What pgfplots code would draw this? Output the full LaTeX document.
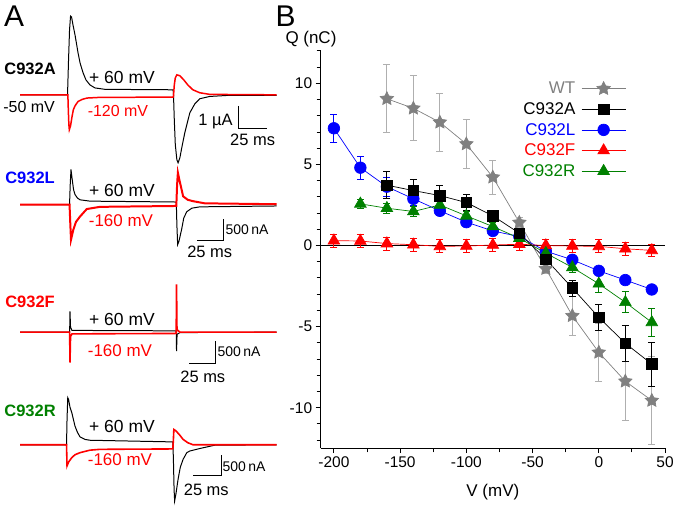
\documentclass[border=0pt]{standalone}
\usepackage{fontspec}
\setmainfont{Liberation Sans}
\usepackage{pgfplots}
\pgfplotsset{compat=1.18}

\definecolor{wtgray}{RGB}{128,128,128}
\definecolor{wterr}{RGB}{175,175,175}
\definecolor{qblue}{RGB}{0,0,255}
\definecolor{qred}{RGB}{255,0,0}
\definecolor{qgreen}{RGB}{0,128,0}
\newcommand{\fs}[1]{\fontsize{#1}{#1}\selectfont}

% filled five-point star
\pgfdeclareplotmark{fstar}{%
  \pgfpathmoveto{\pgfpointpolar{90}{\pgfplotmarksize}}%
  \pgfpathlineto{\pgfpointpolar{126}{0.5\pgfplotmarksize}}%
  \pgfpathlineto{\pgfpointpolar{162}{\pgfplotmarksize}}%
  \pgfpathlineto{\pgfpointpolar{198}{0.5\pgfplotmarksize}}%
  \pgfpathlineto{\pgfpointpolar{234}{\pgfplotmarksize}}%
  \pgfpathlineto{\pgfpointpolar{270}{0.5\pgfplotmarksize}}%
  \pgfpathlineto{\pgfpointpolar{306}{\pgfplotmarksize}}%
  \pgfpathlineto{\pgfpointpolar{342}{0.5\pgfplotmarksize}}%
  \pgfpathlineto{\pgfpointpolar{18}{\pgfplotmarksize}}%
  \pgfpathlineto{\pgfpointpolar{54}{0.5\pgfplotmarksize}}%
  \pgfpathclose\pgfusepathqfillstroke}

\pgfplotsset{
  trace/.style={hide axis, scale only axis, clip=false, width=257pt,
    xmin=0, xmax=229.5, anchor=south west},
  bar/.style={black, line width=0.8pt},
}

\begin{document}
\begin{tikzpicture}
\path (0pt,0pt) rectangle (677pt,510pt);
\node[font=\fs{30}] at (14pt,494pt) {A};
\node[font=\fs{30}] at (286pt,494pt) {B};

% ---- panel A: C932A (t in ms, I in uA)
\begin{axis}[trace, at={(20pt,341.4pt)}, ymin=-3.2, ymax=3.6, height=156.4pt]
\addplot[black, line width=1pt] coordinates {
 (0,0) (42.4,0) (43.3,1.52) (44.2,2.83) (45.1,3.43) (46.0,3.39) (47.3,3.04)
 (49.1,2.61) (51.8,1.83) (53.6,1.39) (56.3,0.96) (58.9,0.65) (62.5,0.43)
 (67.0,0.30) (75.9,0.24) (136.6,0.22) (137.1,0.13) (137.9,-1.09) (138.8,-2.17)
 (140.2,-2.83) (141.3,-2.96) (142.9,-2.74) (144.6,-2.30) (147.3,-1.65)
 (151.8,-0.78) (156.3,-0.39) (160.7,-0.17) (169.6,-0.07) (187.5,-0.02) (229.5,-0.02)};
\addplot[qred, line width=1.5pt] coordinates {
 (0,0) (42.7,0) (43.1,-0.65) (43.6,-1.30) (44.0,-1.52) (45.1,-1.35) (46.4,-0.96)
 (47.6,-0.65) (49.1,-0.48) (51.8,-0.29) (55.4,-0.20) (59.8,-0.14) (71.4,-0.11)
 (136.6,-0.10) (137.1,-0.09) (137.9,0.43) (138.8,0.74) (140.2,0.87) (142.9,0.83)
 (146.4,0.65) (150,0.43) (154.5,0.22) (160.7,0.09) (169.6,0.02) (229.5,0)};
\addplot[bar] coordinates {(195.5,-0.48) (195.5,-1.48) (220.5,-1.48)};
\node[font=\bfseries\fs{16.5}] at (axis cs:8.9,1.13) {C932A};
\node[font=\fs{16}] at (axis cs:8,-0.52) {-50 mV};
\node[font=\fs{17.5}] at (axis cs:91.1,0.74) {+ 60 mV};
\node[font=\fs{16}, text=qred] at (axis cs:87.5,-0.70) {-120 mV};
\node[font=\fs{16.5}, anchor=base east, inner sep=0pt] at (axis cs:190.2,-1.35) {1 µA};
\node[font=\fs{16.5}] at (axis cs:208,-1.96) {25 ms};
\end{axis}

% ---- panel A: C932L
\begin{axis}[trace, at={(20pt,252.2pt)}, ymin=-1.2, ymax=1.0, height=96.8pt]
\addplot[black, line width=1pt] coordinates {
 (0,0) (44.2,0) (44.8,0.45) (45.5,0.80) (46.4,0.61) (47.8,0.34) (49.1,0.23)
 (51.3,0.15) (53.6,0.11) (62.5,0.08) (139.7,0.06) (140.2,-0.45) (140.9,-0.91)
 (142,-0.84) (144.4,-0.57) (146.4,-0.30) (149.1,-0.16) (153.6,-0.08)
 (160.7,-0.05) (229.5,-0.03)};
\addplot[qred, line width=2pt] coordinates {
 (0,0) (44.2,0) (44.9,-0.45) (45.5,-0.80) (46.4,-0.70) (47.6,-0.57) (50,-0.39)
 (53.6,-0.27) (59.6,-0.10) (71.4,-0.05) (139.7,-0.03) (140.4,0.45) (141.1,0.73)
 (142.4,0.57) (145.8,0.19) (150,0.11) (154.5,0.08) (165.2,0.03) (229.5,0.01)};
\addplot[bar] coordinates {(158,-0.82) (182.1,-0.82) (182.1,-0.32)};
\node[font=\bfseries\fs{16.5}, text=qblue] at (axis cs:8.9,0.61) {C932L};
\node[font=\fs{17.5}] at (axis cs:91.1,0.32) {+ 60 mV};
\node[font=\fs{17}, text=qred] at (axis cs:90.2,-0.36) {-160 mV};
\node[font=\fs{14}, anchor=base west, inner sep=0pt] at (axis cs:183.7,-0.68) {500\,nA};
\node[font=\fs{16.5}] at (axis cs:169.6,-1.08) {25 ms};
\end{axis}

% ---- panel A: C932F
\begin{axis}[trace, at={(20pt,125.2pt)}, ymin=-1.2, ymax=1.2, height=104.2pt]
\addplot[black, line width=1pt] coordinates {
 (0,0) (44.3,0) (44.6,0.48) (45.1,0.11) (46.4,0.04) (139.6,0.03) (139.9,-0.44)
 (140.4,-0.05) (142.9,-0.01) (229.5,0)};
\addplot[qred, line width=1.6pt] coordinates {
 (0,0) (44.3,0) (44.6,-0.70) (45.1,-0.10) (46.4,-0.04) (139.6,-0.03) (139.9,1.10)
 (140.3,0.06) (142.9,0) (229.5,0)};
\node[font=\bfseries\fs{16.5}, text=qred] at (axis cs:8.9,0.71) {C932F};
\node[font=\fs{17.5}] at (axis cs:91.1,0.29) {+ 60 mV};
\node[font=\fs{17}, text=qred] at (axis cs:89.3,-0.42) {-160 mV};
\addplot[bar] coordinates {(175,-0.21) (175,-0.71) (150.9,-0.71)};
\node[font=\fs{14}, anchor=base west, inner sep=0pt] at (axis cs:176.5,-0.56) {500\,nA};
\node[font=\fs{16.5}] at (axis cs:163.4,-1.02) {25 ms};
\end{axis}

% ---- panel A: C932R
\begin{axis}[trace, at={(20pt,6.5pt)}, ymin=-1.4, ymax=1.3, height=111.8pt]
\addplot[black, line width=1pt] coordinates {
 (0,0) (41.5,0) (41.96,0.62) (42.6,1.14) (43.3,1.10) (44.6,0.91) (46.2,0.78)
 (47.6,0.62) (49.1,0.45) (51.3,0.30) (53.6,0.19) (58,0.13) (62.5,0.11)
 (136.6,0.07) (137.1,-0.35) (137.7,-1.07) (138.2,-1.36) (139.3,-1.20)
 (141.3,-0.83) (143.3,-0.54) (145.8,-0.35) (149.1,-0.19) (151.8,-0.15)
 (160.7,-0.09) (174.1,-0.01) (229.5,0)};
\addplot[qred, line width=1.6pt] coordinates {
 (0,0) (41.5,0) (41.96,-0.51) (43.3,-0.42) (46.2,-0.31) (49.1,-0.24) (53.6,-0.19)
 (62.5,-0.13) (71.4,-0.11) (136.6,-0.10) (137.1,0.13) (137.5,0.37) (139.3,0.34)
 (142.9,0.23) (145.8,0.13) (150,0.05) (154.7,0) (229.5,0)};
\node[font=\bfseries\fs{16.5}, text=qgreen] at (axis cs:8.9,0.83) {C932R};
\node[font=\fs{17.5}] at (axis cs:91.1,0.45) {+ 60 mV};
\node[font=\fs{17}, text=qred] at (axis cs:89.3,-0.37) {-160 mV};
\addplot[bar] coordinates {(180.1,-0.25) (180.1,-0.75) (154.5,-0.75)};
\node[font=\fs{14}, anchor=base west, inner sep=0pt] at (axis cs:181,-0.64) {500\,nA};
\node[font=\fs{16.5}] at (axis cs:166.5,-1.09) {25 ms};
\end{axis}

% ---- panel B: Q-V
\begin{axis}[
  at={(321pt,61pt)}, anchor=south west, scale only axis,
  width=345pt, height=398pt,
  xmin=-210, xmax=50, ymin=-12.5, ymax=12,
  axis x line=bottom, axis y line=left,
  axis line style={line width=1pt, -},
  xtick={-200,-150,...,50}, minor xtick={-175,-125,-75,-25,25},
  ytick={-10,-5,0,5,10},
  minor ytick={-12,-11,-9,-8,-7,-6,-4,-3,-2,-1,1,2,3,4,6,7,8,9,11,12},
  tick align=outside, major tick length=5pt, minor tick length=4pt,
  every tick/.style={black, line width=1pt},
  tick label style={font=\fs{15.5}},
  /pgf/number format/assume math mode=true,
  xlabel={V (mV)},
  xlabel style={font=\fs{17}, at={(axis description cs:0.5,0)}, anchor=center, yshift=-44pt},
  clip=false,
  legend plot pos=right,
  legend cell align=right,
  legend image code/.code={\draw[mark repeat=2,mark phase=2]
    plot coordinates {(0pt,0pt) (22pt,0pt) (44pt,0pt)};},
  legend style={draw=none, fill=none, font=\fs{17}, at={(0.887,0.927)},
    anchor=north east, row sep=3.3pt, column sep=4pt, inner sep=0pt},
]
\addplot[black, line width=0.9pt, forget plot] coordinates {(-210,0) (50,0)};

% WT
\addplot[wtgray, line width=0.7pt, mark=fstar, mark size=7pt,
  mark options={fill=wtgray, solid}, forget plot,
  error bars/.cd, y dir=both, y explicit,
  error bar style={wterr, line width=0.8pt},
  error mark options={rotate=90, wterr, mark size=3.4pt, line width=0.8pt}]
  coordinates {
 (-160,9.05) +- (0,2.1) (-140,8.46) +- (0,2.0) (-120,7.6) +- (0,1.8)
 (-100,6.26) +- (0,1.5) (-80,4.21) +- (0,1.05) (-60,1.42) +- (0,0.3)
 (-40,-1.43) +- (0,0.3) (-20,-4.33) +- (0,1.2) (0,-6.59) +- (0,1.8)
 (20,-8.37) +- (0,2.4) (40,-9.56) +- (0,2.7)};

% C932L
\addplot[qblue, line width=0.7pt, mark=*, mark size=5.8pt,
  mark options={fill=qblue, solid}, forget plot,
  error bars/.cd, y dir=both, y explicit,
  error bar style={qblue, line width=0.8pt},
  error mark options={rotate=90, qblue, mark size=3.4pt, line width=0.8pt}]
  coordinates {
 (-200,7.23) +- (0,0.88) (-180,4.8) +- (0,0.7) (-160,3.63) +- (0,0.6)
 (-140,2.88) +- (0,0.4) (-120,2.14) +- (0,0.3) (-100,1.44) +- (0,0.2)
 (-80,0.9) +- (0,0.15) (-60,0.55) +- (0,0.1) (-40,-0.35) +- (0,0.1)
 (-20,-0.88) +- (0,0.15) (0,-1.56) +- (0,0.2) (20,-2.13) +- (0,0.2)
 (40,-2.71) +- (0,0.25)};

% C932F
\addplot[qred, line width=0.7pt, mark=triangle*, mark size=6.7pt,
  mark options={fill=qred, solid}, forget plot,
  error bars/.cd, y dir=both, y explicit,
  error bar style={qred, line width=0.8pt},
  error mark options={rotate=90, qred, mark size=3.4pt, line width=0.8pt}]
  coordinates {
 (-200,0.3) +- (0,0.4) (-180,0.28) +- (0,0.4) (-160,0.12) +- (0,0.4)
 (-140,0.05) +- (0,0.4) (-120,-0.05) +- (0,0.4) (-100,-0.03) +- (0,0.4)
 (-80,0.03) +- (0,0.4) (-60,0.08) +- (0,0.4) (-40,0.0) +- (0,0.4)
 (-20,-0.03) +- (0,0.4) (0,-0.05) +- (0,0.4) (20,-0.2) +- (0,0.4)
 (40,-0.3) +- (0,0.4)};

% C932R
\addplot[qgreen, line width=0.7pt, mark=triangle*, mark size=6.7pt,
  mark options={fill=qgreen, solid}, forget plot,
  error bars/.cd, y dir=both, y explicit,
  error bar style={qgreen, line width=0.8pt},
  error mark options={rotate=90, qgreen, mark size=3.4pt, line width=0.8pt}]
  coordinates {
 (-180,2.57) +- (0,0.3) (-160,2.3) +- (0,0.3) (-140,2.1) +- (0,0.3)
 (-120,2.5) +- (0,0.3) (-100,1.83) +- (0,0.3) (-80,1.17) +- (0,0.25)
 (-60,0.45) +- (0,0.2) (-40,-0.47) +- (0,0.2) (-20,-1.35) +- (0,0.3)
 (0,-2.36) +- (0,0.55) (20,-3.5) +- (0,0.65) (40,-4.74) +- (0,0.85)};

% C932A
\addplot[black, line width=0.7pt, mark=square*, mark size=5.3pt,
  mark options={fill=black, solid}, forget plot,
  error bars/.cd, y dir=both, y explicit,
  error bar style={black, line width=0.8pt},
  error mark options={rotate=90, black, mark size=3.4pt, line width=0.8pt}]
  coordinates {
 (-160,3.72) +- (0,0.84) (-140,3.39) +- (0,0.7) (-120,3.08) +- (0,0.6)
 (-100,2.65) +- (0,0.5) (-80,1.83) +- (0,0.35) (-60,0.76) +- (0,0.2)
 (-40,-0.84) +- (0,0.2) (-20,-2.62) +- (0,0.5) (0,-4.43) +- (0,0.83)
 (20,-6.03) +- (0,1.1) (40,-7.31) +- (0,1.35)};

\addlegendimage{wtgray, line width=0.7pt, mark=fstar, mark size=7pt, mark options={fill=wtgray}}
\addlegendentry{\textcolor{wtgray}{WT}}
\addlegendimage{black, line width=0.7pt, mark=square*, mark size=5.3pt, mark options={fill=black}}
\addlegendentry{C932A}
\addlegendimage{qblue, line width=0.7pt, mark=*, mark size=5.8pt, mark options={fill=qblue}}
\addlegendentry{\textcolor{qblue}{C932L}}
\addlegendimage{qred, line width=0.7pt, mark=triangle*, mark size=6.7pt, mark options={fill=qred}}
\addlegendentry{\textcolor{qred}{C932F}}
\addlegendimage{qgreen, line width=0.7pt, mark=triangle*, mark size=6.7pt, mark options={fill=qgreen}}
\addlegendentry{\textcolor{qgreen}{C932R}}

\node[font=\fs{17}] at (axis cs:-217.3,12.73) {Q (nC)};
\end{axis}
\end{tikzpicture}
\end{document}
